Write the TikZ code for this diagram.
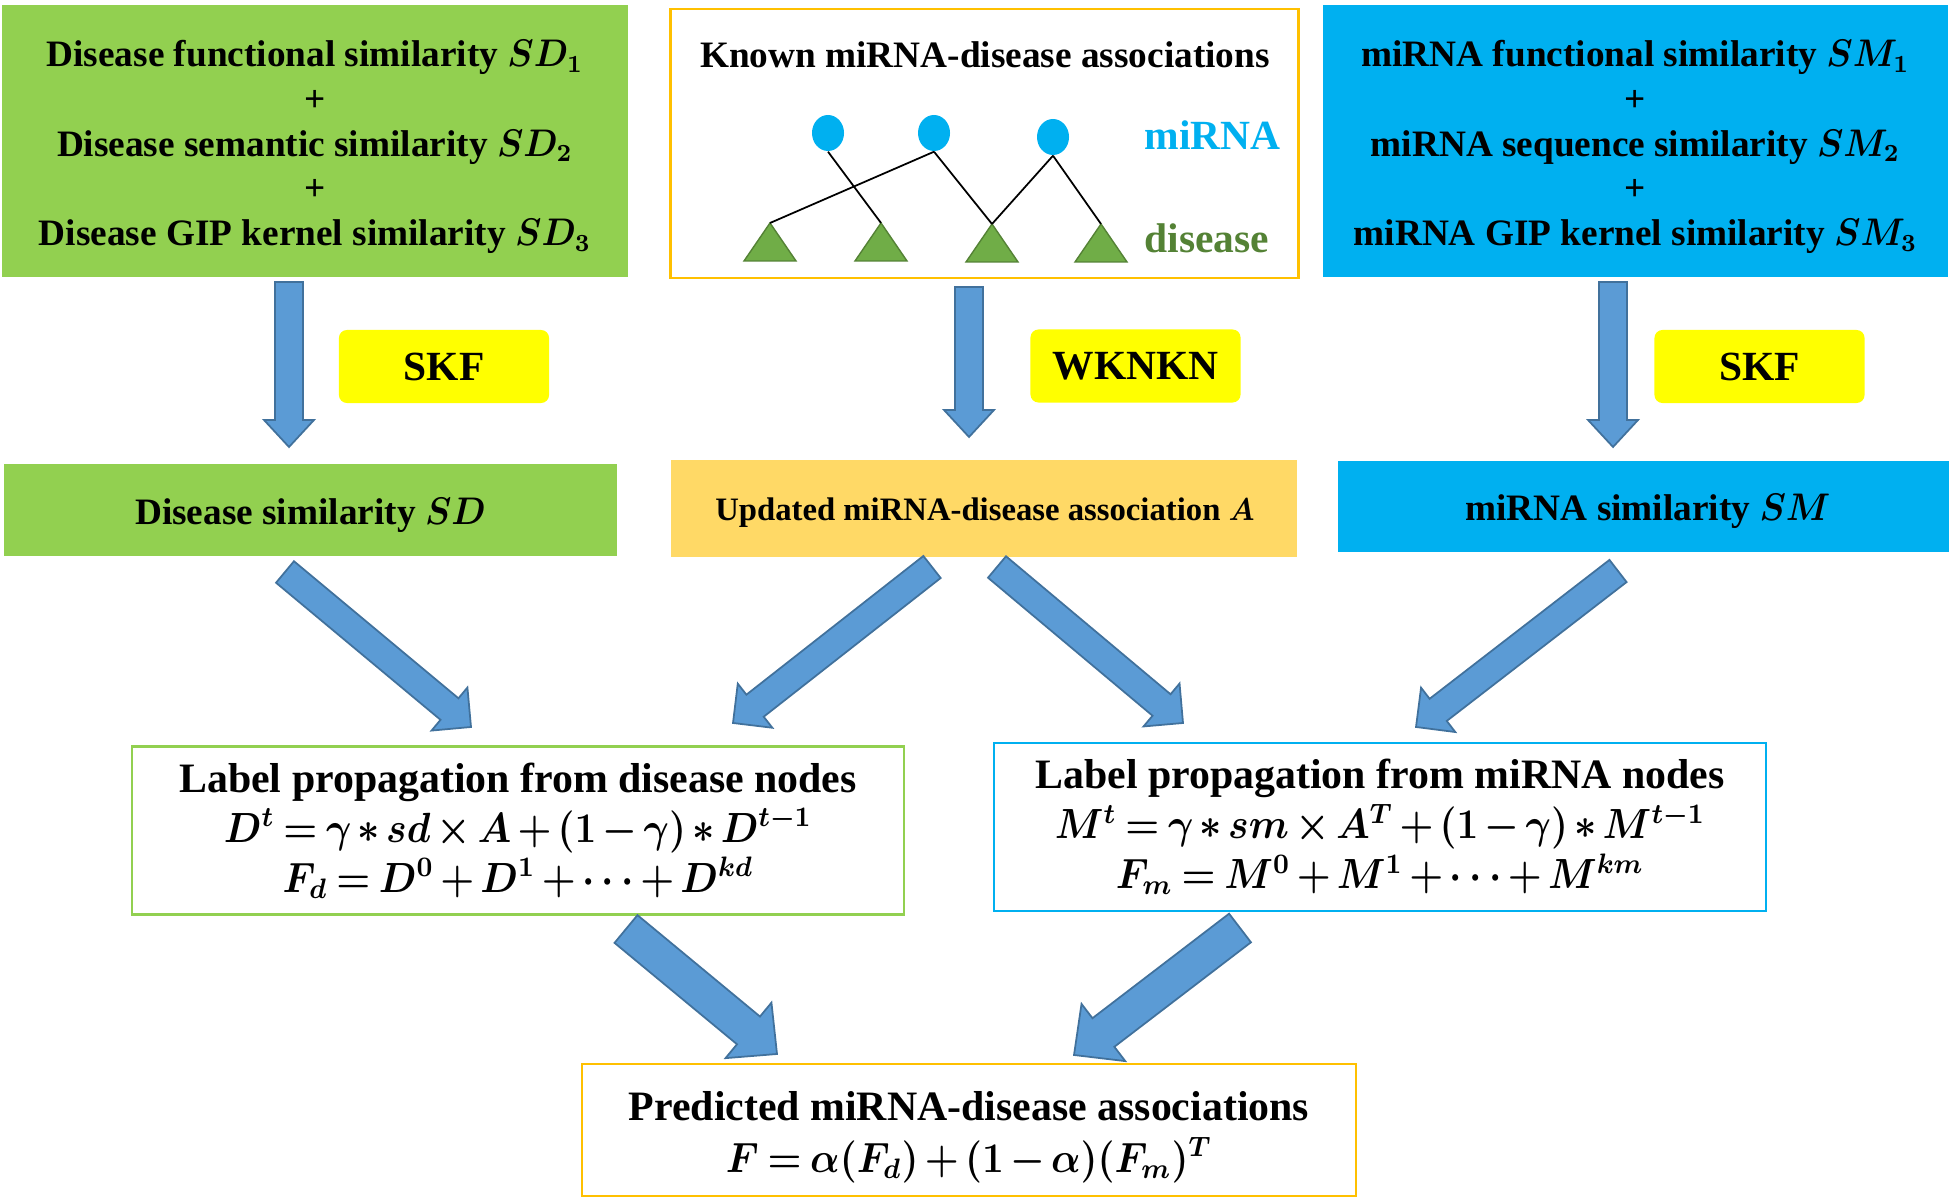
\documentclass[tikz,border=0pt]{standalone}
\usepackage{fontspec}
\setmainfont{Liberation Serif}
\usepackage{amsmath}
\usepackage{amssymb}
\usepackage{graphicx}
\usepackage{tikz}
\usetikzlibrary{calc,shapes.geometric}

\definecolor{boxgreen}{HTML}{92D050}
\definecolor{boxblue}{HTML}{00B0F0}
\definecolor{boxorange}{HTML}{FFD966}
\definecolor{boxgold}{HTML}{FFC000}
\definecolor{tagyellow}{HTML}{FFFF00}
\definecolor{arrowblue}{HTML}{5B9BD5}
\definecolor{arrowedge}{HTML}{41719C}
\definecolor{trigreen}{HTML}{70AD47}
\definecolor{labelgreen}{HTML}{548235}

% narrower bold math
\newcommand{\mth}[1]{\scalebox{0.92}[1]{$\medmuskip=2.5mu\thickmuskip=3.5mu #1$}}

% block arrow: tail, tip, half shaft, half head, head length
\newcommand{\blockarrow}[5]{%
  \coordinate (hb) at ($(#2)!#5!(#1)$);
  \draw[blockarr] ($(#1)!#3!90:(#2)$) -- ($(hb)!#3!90:(#2)$) -- ($(hb)!#4!90:(#2)$) -- (#2)
    -- ($(hb)!#4!-90:(#2)$) -- ($(hb)!#3!-90:(#2)$) -- ($(#1)!#3!-90:(#2)$) -- cycle;
}

\tikzset{
  simbox/.style={minimum width=6.25cm, minimum height=2.72cm, inner sep=0pt},
  simtext/.style={align=center, inner sep=0pt, font=\fontsize{10.6}{12.7}\selectfont\bfseries\boldmath},
  midbox/.style={minimum height=0.92cm, inner sep=0pt},
  tagbox/.style={fill=tagyellow, rounded corners=0.08cm, minimum width=2.1cm, minimum height=0.73cm,
    inner sep=0pt, font=\fontsize{11.8}{14}\selectfont\bfseries},
  lpbox/.style={fill=white, line width=0.7pt, minimum width=7.72cm, minimum height=1.68cm, align=center,
    inner sep=0pt, font=\fontsize{11.9}{14.2}\selectfont\bfseries\boldmath},
  mirnadot/.style={ellipse, fill=boxblue, minimum width=0.32cm, minimum height=0.36cm, inner sep=0pt},
  disdot/.style={fill=trigreen, draw=labelgreen, line width=0.4pt},
  blockarr/.style={fill=arrowblue, draw=arrowedge, line width=0.5pt, line join=miter},
}

\begin{document}
\begin{tikzpicture}[x=0.01cm, y=-0.01cm]
  % Fix the page size
  \useasboundingbox (0,0) rectangle (1955,1201);

  % Top row: input boxes
  \node[simbox, fill=boxgreen] (dsim) at (315,141) {};
  \node[simtext] (dsimtext) at (315,147)
    {Disease functional similarity \mth{SD_1}\\+\\Disease semantic similarity \mth{SD_2}\\+\\Disease GIP kernel similarity \mth{SD_3}};
  \node[simbox, fill=boxblue] (msim) at (1635.5,141) {};
  \node[simtext] (msimtext) at (1635.5,147)
    {miRNA functional similarity \mth{SM_1}\\+\\miRNA sequence similarity \mth{SM_2}\\+\\miRNA GIP kernel similarity \mth{SM_3}};
  \node[simbox, draw=boxgold, line width=0.8pt, minimum width=6.27cm, minimum height=2.69cm] (known) at (984.5,143.5) {};
  \node[simtext, anchor=base] (knowntitle) at (985,68) {Known miRNA-disease associations};

  % Bipartite graph in the known box
  \foreach \n/\x/\y in {c1/828/133, c2/934/133, c3/1053/137}
    \node[mirnadot] (\n) at (\x,\y) {};
  \foreach \n/\x/\y in {t1/770/223, t2/881/223, t3/992/224, t4/1101/224} {
    \draw[disdot] (\x,\y) -- ++(-26,38) -- ++(52,0) -- cycle;
    \coordinate (\n) at (\x,\y);
  }
  \foreach \a/\b in {c1/t2, c2/t1, c2/t3, c3/t3, c3/t4}
    \draw[line width=0.5pt] (\a.south) -- (\b);
  \node[anchor=base west, inner sep=0pt, text=boxblue, font=\fontsize{11.8}{14}\selectfont\bfseries] (lmirna) at (1144,150) {miRNA};
  \node[anchor=base west, inner sep=0pt, text=labelgreen, font=\fontsize{11.8}{14}\selectfont\bfseries] (ldis) at (1144,253) {disease};

  % Method tags
  \node[tagbox] (skfd) at (444,366.5) {SKF};
  \node[tagbox] (wknkn) at (1135.5,366) {WKNKN};
  \node[tagbox] (skfm) at (1759.5,366.5) {SKF};

  % Second row
  \node[midbox, fill=boxgreen, minimum width=6.13cm] (sd) at (310.5,510) {};
  \node[simtext] (sdtext) at (310.5,515) {Disease similarity \mth{SD}};
  \node[midbox, fill=boxorange, minimum width=6.26cm, minimum height=0.97cm] (upd) at (984,508.5) {};
  \node[simtext, font=\fontsize{9.3}{11}\selectfont\bfseries\boldmath] (updtext) at (985,513)
    {Updated miRNA-disease association \mth{A}};
  \node[midbox, fill=boxblue, minimum width=6.11cm, minimum height=0.91cm] (sm) at (1643.5,506.5) {};
  \node[simtext] (smtext) at (1648,511) {miRNA similarity \mth{SM}};

  % Label propagation boxes
  \node[lpbox, draw=boxgreen] (lpd) at (518,830.5)
    {Label propagation from disease nodes\\
     \mth{D^t = \gamma \ast sd \times A + (1-\gamma) \ast D^{t-1}}\\
     \mth{F_d = D^0 + D^1 + \cdots + D^{kd}}};
  \node[lpbox, draw=boxblue] (lpm) at (1380,827)
    {Label propagation from miRNA nodes\\
     \mth{M^t = \gamma \ast sm \times A^T + (1-\gamma) \ast M^{t-1}}\\
     \mth{F_m = M^0 + M^1 + \cdots + M^{km}}};

  % Result box
  \node[lpbox, draw=boxgold, minimum width=7.74cm, minimum height=1.32cm] (pred) at (969,1130) {};
  \node[simtext, font=\fontsize{11.9}{14.8}\selectfont\bfseries\boldmath] (predtext) at (969,1137)
    {Predicted miRNA-disease associations\\
     \mth{F = \alpha(F_d) + (1-\alpha)(F_m)^T}};

  % Arrow end points
  \coordinate (dsim-out) at (289,282);  \coordinate (sd-in) at (289,447);
  \coordinate (known-out) at (969,287); \coordinate (upd-in) at (969,437);
  \coordinate (msim-out) at (1613,282); \coordinate (sm-in) at (1613,447);
  \coordinate (sd-out) at (285,572);    \coordinate (lpd-in1) at (471,727);
  \coordinate (upd-out1) at (932,567);  \coordinate (lpd-in2) at (733,723);
  \coordinate (upd-out2) at (997,567);  \coordinate (lpm-in1) at (1183,723);
  \coordinate (sm-out) at (1618,571);   \coordinate (lpm-in2) at (1416,727);
  \coordinate (lpd-out) at (626,929);   \coordinate (pred-in1) at (777,1054);
  \coordinate (lpm-out) at (1240,928);  \coordinate (pred-in2) at (1074,1055);

  % Draw the arrows
  \foreach \s/\e in {dsim-out/sd-in, known-out/upd-in, msim-out/sm-in} {
    \blockarrow{\s}{\e}{0.14cm}{0.25cm}{0.27cm}
  }
  \foreach \s/\e in {sd-out/lpd-in1, upd-out1/lpd-in2, upd-out2/lpm-in1, sm-out/lpm-in2} {
    \blockarrow{\s}{\e}{0.14cm}{0.28cm}{0.28cm}
  }
  \foreach \s/\e in {lpd-out/pred-in1, lpm-out/pred-in2} {
    \blockarrow{\s}{\e}{0.18cm}{0.36cm}{0.37cm}
  }
\end{tikzpicture}
\end{document}
